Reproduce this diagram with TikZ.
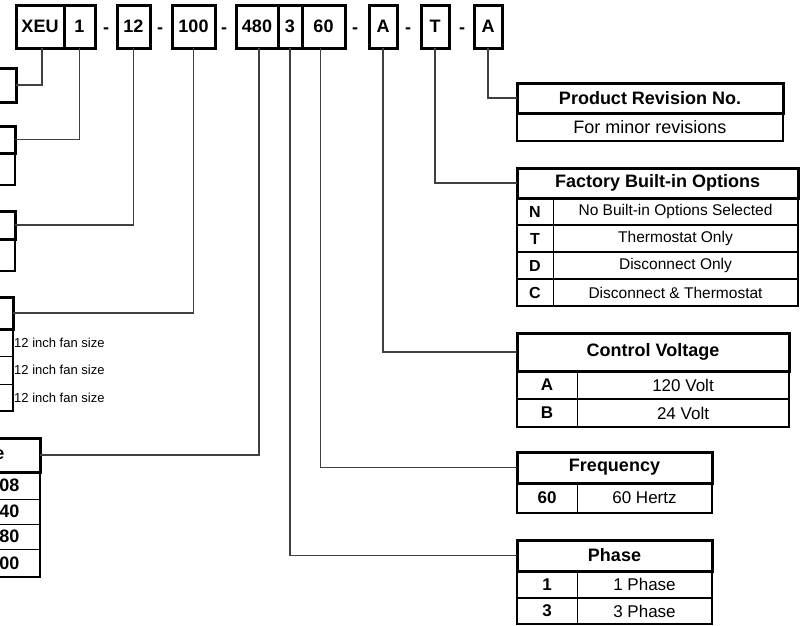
\documentclass[tikz,border=0pt]{standalone}
\usepackage{fontspec}
\setmainfont{Liberation Sans}
\usetikzlibrary{positioning}
\tikzset{
  code/.style={
    draw,
    rectangle,
    line width=3pt,
    outer sep=0pt,
    inner sep=0pt,
    minimum height=43pt,
    font=\bfseries\fontsize{18}{20}\selectfont
  },
  hyph/.style={
    font=\bfseries\fontsize{18}{20}\selectfont
  },
  head/.style={
    draw,
    rectangle,
    line width=3pt,
    outer sep=0pt,
    inner sep=0pt,
    anchor=north west,
    font=\bfseries\fontsize{18}{20}\selectfont
  },
  cell/.style={
    draw,
    rectangle,
    line width=0.9pt,
    outer sep=0pt,
    inner sep=0pt,
    anchor=north west,
    font=\fontsize{17}{19}\selectfont
  },
  key/.style={
    cell,
    font=\bfseries\fontsize{17}{19}\selectfont
  },
  frame/.style={
    line width=2.3pt
  },
  link/.style={
    draw=black!75,
    line width=1.3pt
  }
}

\begin{document}
\begin{tikzpicture}[x=1pt, y=-1pt]
  \useasboundingbox (0,0) rectangle (800,625);

  % Code du modele
  \node[code, minimum width=48pt] (xeu) at (40,26.5) {XEU};
  \node[code, minimum width=31pt, right=0pt of xeu] (one) {1};
  \node[hyph, anchor=base] (d1) at (106,33) {-};
  \node[code, minimum width=33pt] (twelve) at (133.5,26.5) {12};
  \node[hyph, anchor=base] (d2) at (160,33) {-};
  \node[code, minimum width=43pt] (hundred) at (193.5,26.5) {100};
  \node[hyph, anchor=base] (d3) at (224,33) {-};
  \node[code, minimum width=42pt] (volts) at (257,26.5) {480};
  \node[code, minimum width=24pt, right=0pt of volts] (phase) {3};
  \node[code, minimum width=43pt, right=0pt of phase] (hertz) {60};
  \node[hyph, anchor=base] (d4) at (355,33) {-};
  \node[code, minimum width=28pt] (ctlv) at (383,26.5) {A};
  \node[hyph, anchor=base] (d5) at (408,33) {-};
  \node[code, minimum width=28pt] (opts) at (435,26.5) {T};
  \node[hyph, anchor=base] (d6) at (462,33) {-};
  \node[code, minimum width=28pt] (rev) at (488,26.5) {A};

  % Tableaux de gauche (coupes)
  \node[head, anchor=north east, minimum width=80pt, minimum height=34pt] (xeuBox) at (16,68) {};

  \node[head, anchor=north east, minimum width=80pt, minimum height=27pt] (oneHead) at (15,126) {};
  \node[head, anchor=north east, line width=2.3pt, minimum width=80pt, minimum height=32pt] (oneRow) at (15,153) {};

  \node[head, anchor=north east, minimum width=80pt, minimum height=28pt] (twelveHead) at (15,211) {};
  \node[head, anchor=north east, line width=2.3pt, minimum width=80pt, minimum height=32pt] (twelveRow) at (15,239) {};

  \node[head, anchor=north east, minimum width=80pt, minimum height=32pt] (hundredHead) at (13,297) {};
  \node[cell, anchor=north east, minimum width=80pt, minimum height=27pt] (fan1) at (13,329) {};
  \node[cell, anchor=north east, minimum width=80pt, minimum height=28pt] (fan2) at (13,356) {};
  \node[cell, anchor=north east, minimum width=80pt, minimum height=27pt] (fan3) at (13,384) {};
  \draw[frame] (fan1.north west) rectangle (fan3.south east);
  \node[anchor=west, inner sep=1pt, font=\fontsize{13}{15}\selectfont] (fan1t) at (fan1.east) {12 inch fan size};
  \node[anchor=west, inner sep=1pt, font=\fontsize{13}{15}\selectfont] (fan2t) at (fan2.east) {12 inch fan size};
  \node[anchor=west, inner sep=1pt, font=\fontsize{13}{15}\selectfont] (fan3t) at (fan3.east) {12 inch fan size};

  \node[head, anchor=north east, minimum width=80pt, minimum height=34pt] (voltHead) at (40,438) {};
  \node[cell, anchor=north east, minimum width=80pt, minimum height=27pt] (volt1) at (40,472) {};
  \node[cell, anchor=north east, minimum width=80pt, minimum height=25pt] (volt2) at (40,499) {};
  \node[cell, anchor=north east, minimum width=80pt, minimum height=25pt] (volt3) at (40,524) {};
  \node[cell, anchor=north east, minimum width=80pt, minimum height=28pt] (volt4) at (40,549) {};
  \draw[frame] (volt1.north west) rectangle (volt4.south east);
  \node[hyph, anchor=east, inner sep=0pt] (voltHt) at (4.5,455) {e};
  \node[hyph, anchor=east, inner sep=0pt] (volt1t) at (19.5,485.5) {08};
  \node[hyph, anchor=east, inner sep=0pt] (volt2t) at (19.5,511.5) {40};
  \node[hyph, anchor=east, inner sep=0pt] (volt3t) at (19.5,536.5) {80};
  \node[hyph, anchor=east, inner sep=0pt] (volt4t) at (19.5,563) {00};

  % Tableaux de droite
  \node[head, minimum width=266pt, minimum height=30pt] (prod) at (517,83) {Product Revision No.};
  \node[cell, line width=2.3pt, minimum width=266pt, minimum height=28pt, font=\fontsize{18}{20}\selectfont] (prodRow) at (517,113) {For minor revisions};

  \node[head, minimum width=281pt, minimum height=30pt] (fact) at (517,168) {Factory Built-in Options};
  \node[key, minimum width=36pt, minimum height=27pt, font=\bfseries\fontsize{16}{18}\selectfont] (factN) at (517,198) {N};
  \node[cell, minimum width=245pt, minimum height=27pt, font=\fontsize{15.5}{18}\selectfont, right=0pt of factN] (factNv) {No Built-in Options Selected};
  \node[key, minimum width=36pt, minimum height=27pt, font=\bfseries\fontsize{16}{18}\selectfont, below=0pt of factN] (factT) {T};
  \node[cell, minimum width=245pt, minimum height=27pt, font=\fontsize{15.5}{18}\selectfont, right=0pt of factT] (factTv) {Thermostat Only};
  \node[key, minimum width=36pt, minimum height=27pt, font=\bfseries\fontsize{16}{18}\selectfont, below=0pt of factT] (factD) {D};
  \node[cell, minimum width=245pt, minimum height=27pt, font=\fontsize{15.5}{18}\selectfont, right=0pt of factD] (factDv) {Disconnect Only};
  \node[key, minimum width=36pt, minimum height=27pt, font=\bfseries\fontsize{16}{18}\selectfont, below=0pt of factD] (factC) {C};
  \node[cell, minimum width=245pt, minimum height=27pt, font=\fontsize{15.5}{18}\selectfont, right=0pt of factC] (factCv) {Disconnect \& Thermostat};
  \draw[frame] (factN.north west) rectangle (factNv.south east);
  \draw[frame] (factT.north west) rectangle (factTv.south east);
  \draw[frame] (factD.north west) rectangle (factDv.south east);
  \draw[frame] (factC.north west) rectangle (factCv.south east);

  \node[head, minimum width=272pt, minimum height=38pt] (ctrl) at (517,333) {Control Voltage};
  \node[key, minimum width=60pt, minimum height=28pt] (ctrlA) at (517,371) {A};
  \node[cell, minimum width=212pt, minimum height=28pt, right=0pt of ctrlA] (ctrlAv) {120 Volt};
  \node[key, minimum width=60pt, minimum height=28pt, below=0pt of ctrlA] (ctrlB) {B};
  \node[cell, minimum width=212pt, minimum height=28pt, right=0pt of ctrlB] (ctrlBv) {24 Volt};
  \draw[frame] (ctrlA.north west) rectangle (ctrlAv.south east);
  \draw[frame] (ctrlB.north west) rectangle (ctrlBv.south east);

  \node[head, minimum width=195pt, minimum height=31pt] (freq) at (517,452) {Frequency};
  \node[key, minimum width=60pt, minimum height=30pt] (freq60) at (517,483) {60};
  \node[cell, minimum width=135pt, minimum height=30pt, right=0pt of freq60] (freq60v) {60 Hertz};
  \draw[frame] (freq60.north west) rectangle (freq60v.south east);

  \node[head, minimum width=195pt, minimum height=31pt] (ph) at (517,540) {Phase};
  \node[key, minimum width=60pt, minimum height=27pt] (ph1) at (517,571) {1};
  \node[cell, minimum width=135pt, minimum height=27pt, right=0pt of ph1] (ph1v) {1 Phase};
  \node[key, minimum width=60pt, minimum height=26pt, below=0pt of ph1] (ph3) {3};
  \node[cell, minimum width=135pt, minimum height=26pt, right=0pt of ph3] (ph3v) {3 Phase};
  \draw[frame] (ph1.north west) rectangle (ph1v.south east);
  \draw[frame] (ph3.north west) rectangle (ph3v.south east);

  % Liaisons
  \draw[link] ([xshift=2pt]xeu.south) |- (xeuBox.east);
  \draw[link] (one.south) |- (oneHead.east);
  \draw[link] (twelve.south) |- (twelveHead.east);
  \draw[link] (hundred.south) |- (hundredHead.east);
  \draw[link] ([xshift=2pt]volts.south) |- (voltHead.east);
  \draw[link] (phase.south) |- (ph.west);
  \draw[link] ([xshift=-3pt]hertz.south) |- (freq.west);
  \draw[link] (ctlv.south) |- (ctrl.west);
  \draw[link] (opts.south) |- (fact.west);
  \draw[link] (rev.south) |- (prod.west);
\end{tikzpicture}
\end{document}
